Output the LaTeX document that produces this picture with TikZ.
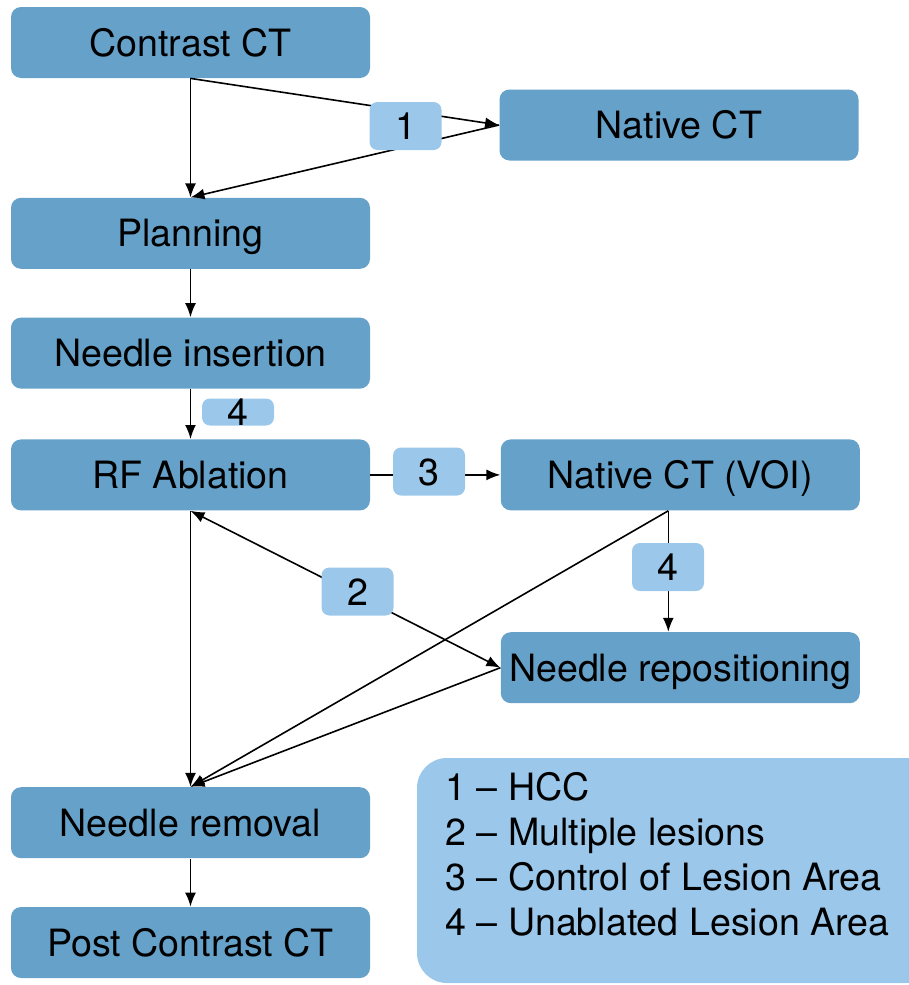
\documentclass[tikz,border=0pt]{standalone}
\usepackage{fontspec}
\setmainfont{TeX Gyre Heros}
\usepackage{xcolor}
\definecolor{stageblue}{RGB}{101, 161, 201}
\definecolor{tagblue}{RGB}{154, 199, 234}
\usetikzlibrary{arrows.meta, positioning, calc}

\begin{document}
\begin{tikzpicture}[x=0.5pt, y=-0.5pt,
        stage/.style={rectangle, fill=stageblue, rounded corners=5pt, minimum width=179.5pt, minimum height=35.5pt, inner sep=0pt, text height=13.5pt, text depth=0pt, font=\fontsize{18.8}{22.5}\selectfont},
        tag/.style={rectangle, fill=tagblue, rounded corners=4pt, minimum width=36pt, minimum height=24pt, inner sep=0pt, text height=13.5pt, text depth=0pt, font=\fontsize{18.8}{22.5}\selectfont},
        legendbox/.style={rectangle, fill=tagblue, rounded corners=15pt, minimum width=259pt, minimum height=112.5pt},
        line/.style={draw=black, -{Latex[length=7pt, width=5.5pt]}, thick}]

        \useasboundingbox (0,0) rectangle (909,985);

        % legend in the lower right corner
        \begin{scope}
        \clip (0,0) rectangle (909,985);
        \node [legendbox] (legend) at (676,870.5) {};
        \end{scope}
        \node [anchor=north west, align=left, inner sep=0pt, font=\fontsize{18.8}{22.5}\selectfont] (legendtext) at (445,772) {1 – HCC\\2 – Multiple lesions\\3 – Control of Lesion Area\\4 – Unablated Lesion Area};

        \node [stage] (contrast) at (190.5,42.5) {Contrast CT};
        \node [stage] (native) at (679,125) {Native CT};
        \node [stage, below=59.5pt of contrast] (planning) {Planning};
        \node [stage, below=24pt of planning] (insertion) {Needle insertion};
        \node [stage, below=25pt of insertion] (rfa) {RF Ablation};
        \node [stage, right=65pt of rfa] (voi) {Native CT (VOI)};
        \node [stage, below=60.5pt of voi] (repos) {Needle repositioning};
        \node [stage, below=138pt of rfa] (removal) {Needle removal};
        \node [stage, below=24pt of removal] (post) {Post Contrast CT};

        \path [line] (contrast) -- (planning);
        \path [line] (contrast.south) -- (native.west);
        \path [line] (native.west) -- (planning.north);
        \path [line] (planning) -- (insertion);
        \path [line] (insertion) -- (rfa);
        \path [line] (rfa) -- (voi);
        \path [line] ([xshift=-6pt]voi.south) -- ([xshift=-6pt]repos.north);
        \path [line] ([xshift=-6pt]voi.south) -- (removal.north);
        \path [line, {Latex[length=7pt, width=5.5pt]}-{Latex[length=7pt, width=5.5pt]}] (rfa.south) -- (repos.west);
        \path [line] (repos.west) -- (removal.north);
        \path [line] (rfa) -- (removal);
        \path [line] (removal) -- (post);

        % numbered tags on the connectors
        \node [tag] (tag1) at (405.5,126) {1};
        \node [tag, minimum height=12pt, text height=13.5pt, text depth=-1.5pt] (tag4a) at (238,412) {4};
        \node [tag] (tag3) at (429,471.5) {3};
        \node [tag] (tag2) at (357.5,591.5) {2};
        \node [tag] (tag4b) at (668,567) {4};
    \end{tikzpicture}
\end{document}
